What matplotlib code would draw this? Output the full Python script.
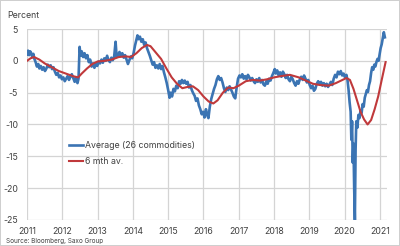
import matplotlib.pyplot as plt

plt.rcParams['font.family'] = ['Inter', 'DejaVu Sans']

# average of 26 commodities
avg_t = [2011.00, 2011.03, 2011.06, 2011.09, 2011.12, 2011.15, 2011.18, 2011.21, 2011.25, 2011.28,
         2011.32, 2011.35, 2011.39, 2011.43, 2011.47, 2011.51, 2011.55, 2011.59, 2011.63, 2011.67,
         2011.71, 2011.75, 2011.79, 2011.83, 2011.87, 2011.91, 2011.95, 2011.99, 2012.03, 2012.07,
         2012.11, 2012.15, 2012.19, 2012.23, 2012.27, 2012.31, 2012.35, 2012.39, 2012.43, 2012.46,
         2012.49, 2012.52, 2012.55, 2012.59, 2012.63, 2012.67, 2012.71, 2012.75, 2012.79, 2012.83,
         2012.87, 2012.91, 2012.95, 2012.99, 2013.03, 2013.07, 2013.11, 2013.15, 2013.19, 2013.23,
         2013.27, 2013.31, 2013.35, 2013.39, 2013.43, 2013.47, 2013.51, 2013.54, 2013.58, 2013.62,
         2013.66, 2013.70, 2013.74, 2013.78, 2013.82, 2013.86, 2013.90, 2013.94, 2013.98, 2014.02,
         2014.06, 2014.10, 2014.13, 2014.16, 2014.20, 2014.24, 2014.28, 2014.32, 2014.36, 2014.40,
         2014.44, 2014.48, 2014.52, 2014.56, 2014.60, 2014.64, 2014.68, 2014.72, 2014.76, 2014.80,
         2014.84, 2014.88, 2014.92, 2014.96, 2015.00, 2015.04, 2015.07, 2015.11, 2015.15, 2015.19,
         2015.23, 2015.27, 2015.31, 2015.35, 2015.39, 2015.43, 2015.47, 2015.51, 2015.55, 2015.59,
         2015.63, 2015.67, 2015.71, 2015.75, 2015.79, 2015.83, 2015.87, 2015.91, 2015.95, 2015.99,
         2016.03, 2016.07, 2016.11, 2016.14, 2016.18, 2016.22, 2016.26, 2016.30, 2016.34, 2016.38,
         2016.42, 2016.46, 2016.50, 2016.54, 2016.58, 2016.62, 2016.66, 2016.70, 2016.74, 2016.78,
         2016.82, 2016.86, 2016.90, 2016.94, 2016.98, 2017.02, 2017.06, 2017.10, 2017.14, 2017.18,
         2017.22, 2017.26, 2017.30, 2017.34, 2017.38, 2017.42, 2017.46, 2017.50, 2017.54, 2017.58,
         2017.62, 2017.66, 2017.70, 2017.74, 2017.78, 2017.82, 2017.86, 2017.90, 2017.94, 2017.98,
         2018.02, 2018.05, 2018.09, 2018.13, 2018.17, 2018.21, 2018.25, 2018.29, 2018.33, 2018.37,
         2018.41, 2018.45, 2018.49, 2018.53, 2018.57, 2018.61, 2018.65, 2018.69, 2018.73, 2018.77,
         2018.81, 2018.85, 2018.89, 2018.93, 2018.97, 2019.01, 2019.05, 2019.09, 2019.13, 2019.17,
         2019.21, 2019.25, 2019.29, 2019.33, 2019.37, 2019.41, 2019.45, 2019.49, 2019.53, 2019.57,
         2019.61, 2019.65, 2019.69, 2019.73, 2019.77, 2019.81, 2019.85, 2019.89, 2019.93, 2019.97,
         2020.01, 2020.05, 2020.08, 2020.11, 2020.14, 2020.17, 2020.19, 2020.21, 2020.23, 2020.25,
         2020.27, 2020.29, 2020.31, 2020.33, 2020.36, 2020.39, 2020.42, 2020.45, 2020.48, 2020.51,
         2020.54, 2020.57, 2020.60, 2020.63, 2020.66, 2020.69, 2020.72, 2020.75, 2020.78, 2020.81,
         2020.84, 2020.87, 2020.90, 2020.93, 2020.96, 2020.99, 2021.02, 2021.05, 2021.08, 2021.11,
         2021.14]
avg_v = [1.0, 1.6, 0.9, 1.5, 1.2, 0.6, 1.1, 0.3, -0.3, -0.9,
         -0.5, -1.2, -0.8, -1.4, -1.0, -1.6, -1.2, -0.6, -1.0, -0.7,
         -1.3, -1.0, -1.7, -2.2, -1.9, -2.6, -2.3, -2.9, -2.6, -3.2,
         -2.8, -2.4, -3.0, -2.5, -2.1, -2.7, -3.3, -2.6, -3.5, -2.8,
         2.2, 0.8, 1.5, 0.6, 1.2, 0.4, 0.9, -0.2, 0.2, -0.9,
         -0.4, -1.1, -0.5, -0.8, -0.1, -0.4, 0.2, -0.3, 0.4, 0.0,
         0.8, 0.1, -0.2, 0.5, 0.1, 0.7, 3.0, 0.6, 0.9, 1.4,
         0.8, 1.2, 0.5, 0.9, 0.2, -0.5, 0.1, 0.7, 0.4, 1.2,
         2.4, 3.3, 4.0, 3.4, 3.8, 3.0, 3.4, 2.5, 2.9, 2.0,
         1.4, 0.8, 0.1, -0.6, -0.2, -1.1, -0.7, -1.2, -0.5, -1.3,
         -0.8, -1.8, -2.6, -3.5, -4.6, -5.8, -5.0, -5.6, -4.4, -4.8,
         -3.9, -4.3, -3.2, -3.6, -3.0, -3.5, -3.1, -3.6, -3.3, -4.2,
         -3.8, -4.6, -5.1, -5.5, -6.3, -5.9, -7.0, -7.6, -8.4, -8.0,
         -8.9, -7.6, -8.6, -9.0, -7.2, -6.0, -5.2, -4.4, -3.8, -2.9,
         -2.4, -3.0, -2.7, -3.4, -4.3, -4.9, -4.2, -4.6, -4.0, -4.5,
         -5.0, -5.6, -5.9, -4.2, -2.8, -2.3, -2.6, -2.1, -2.8, -2.4,
         -2.9, -2.2, -2.6, -3.1, -2.7, -3.2, -3.5, -2.9, -3.3, -2.7,
         -3.4, -3.0, -3.7, -3.9, -3.2, -3.6, -2.8, -3.1, -2.4, -1.9,
         -1.3, -2.0, -1.5, -2.3, -1.8, -2.5, -1.7, -2.1, -2.7, -2.2,
         -2.9, -3.2, -2.5, -2.9, -3.5, -3.9, -3.2, -3.6, -2.9, -2.5,
         -3.0, -2.3, -2.8, -3.4, -3.0, -3.8, -4.3, -3.9, -4.7, -4.4,
         -3.6, -3.2, -3.7, -3.3, -3.9, -3.5, -4.0, -3.6, -4.1, -3.7,
         -3.3, -3.8, -2.8, -2.2, -2.6, -1.7, -2.1, -1.6, -2.3, -2.0,
         -2.6, -2.2, -3.0, -4.5, -6.5, -8.0, -12.4, -9.5, -16.0, -13.0,
         -20.0, -25.0, -14.0, -9.5, -10.5, -8.5, -9.0, -7.8, -8.2, -6.8,
         -7.2, -5.8, -5.2, -4.6, -4.9, -3.8, -3.2, -1.9, -1.0, -1.4,
         -0.6, -0.9, -0.2, 0.3, 0.0, 1.0, 2.0, 2.6, 3.6, 4.5,
         3.7]

# 6 month average
ma_t = [2011.00, 2011.10, 2011.20, 2011.35, 2011.50, 2011.70, 2011.90, 2012.10, 2012.30, 2012.45,
        2012.55, 2012.70, 2012.85, 2013.00, 2013.20, 2013.40, 2013.60, 2013.80, 2013.95, 2014.10,
        2014.25, 2014.40, 2014.50, 2014.65, 2014.80, 2014.95, 2015.10, 2015.25, 2015.40, 2015.55,
        2015.70, 2015.85, 2016.00, 2016.15, 2016.28, 2016.40, 2016.55, 2016.70, 2016.85, 2017.00,
        2017.20, 2017.40, 2017.60, 2017.80, 2018.00, 2018.20, 2018.45, 2018.70, 2018.90, 2019.10,
        2019.30, 2019.55, 2019.75, 2019.90, 2020.05, 2020.15, 2020.25, 2020.35, 2020.45, 2020.55,
        2020.65, 2020.75, 2020.85, 2020.95, 2021.05, 2021.16]
ma_v = [0.0, 0.4, 0.6, 0.2, -0.4, -1.0, -1.6, -2.0, -2.4, -2.6,
        -2.0, -1.2, -0.5, -0.1, 0.0, 0.2, 0.6, 0.7, 0.6, 1.2,
        2.0, 2.5, 2.3, 1.3, 0.3, -1.2, -2.6, -3.6, -4.3, -4.1,
        -4.0, -4.6, -5.6, -6.4, -6.7, -6.2, -5.0, -4.2, -4.3, -3.9,
        -3.2, -3.0, -3.1, -2.9, -2.6, -2.4, -2.2, -2.6, -3.1, -3.6,
        -3.8, -3.9, -3.5, -3.1, -2.7, -3.0, -4.4, -6.2, -8.0, -9.2,
        -10.0, -9.3, -7.6, -5.6, -3.0, -0.2]

years = list(range(2011, 2022))
yticks = [5, 0, -5, -10, -15, -20, -25]

txt = '#404040'
grid = '#d4d4d4'

fig = plt.figure(figsize=(4, 2.46), dpi=100, linewidth=1.2, edgecolor='#cfcfcf')
ax = fig.add_axes([0.0675, 0.106, 0.9, 0.776])

ax.plot(avg_t, avg_v, color='#3b74b3', lw=1.9, label='Average (26 commodities)', zorder=3)
ax.plot(ma_t, ma_v, color='#c0393b', lw=1.5, label='6 mth av.', zorder=4)

ax.set_xlim(2011, 2021.2)
ax.set_ylim(-25, 5)
ax.set_xticks(years)
ax.set_xticklabels([str(y) for y in years])
ax.set_yticks(yticks)
ax.set_yticklabels([str(y) for y in yticks])
ax.tick_params(length=0, labelsize=6.3, colors=txt)
ax.tick_params(axis='x', pad=5)
ax.tick_params(axis='y', pad=6.5)
ax.grid(True, color=grid, lw=0.9)
for s in ax.spines.values():
    s.set_visible(False)

leg = ax.legend(loc='upper left', bbox_to_anchor=(0.108, 0.43), frameon=False,
                fontsize=6.3, handlelength=1.6, handletextpad=0.2, labelspacing=0.8,
                borderaxespad=0)
for t in leg.get_texts():
    t.set_color(txt)

fig.text(0.018, 0.935, 'Percent', fontsize=6.3, color=txt, va='center')
fig.text(0.015, 0.022, 'Source: Bloomberg, Saxo Group', fontsize=4.6, color=txt, va='center')

fig.savefig('out.png', dpi=100, edgecolor=fig.get_edgecolor())
